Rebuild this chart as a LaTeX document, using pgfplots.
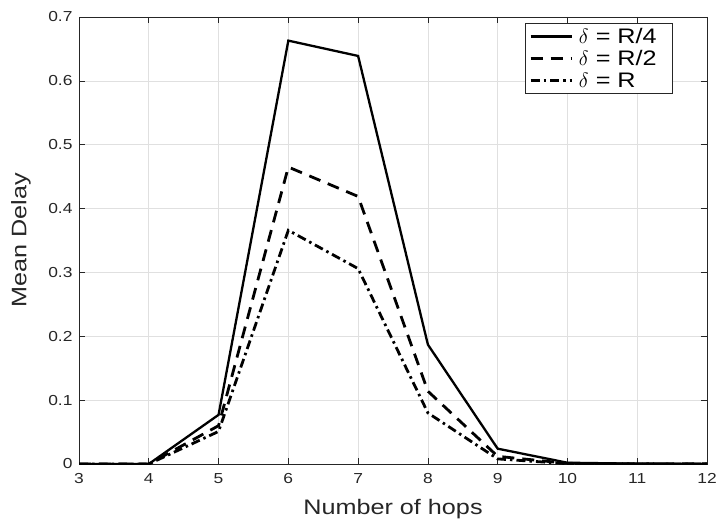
\documentclass[border=0pt]{standalone}
\usepackage{pgfplots}
\pgfplotsset{compat=1.18}
\usepackage{fontspec}
\setmainfont{Liberation Sans}[FakeStretch=1.2]
\definecolor{axgray}{gray}{0.15}
\definecolor{gridgray}{gray}{0.88}
\begin{document}
\begin{tikzpicture}
\begin{axis}[
  scale only axis,
  width=628pt, height=447pt,
  xmin=3, xmax=12, ymin=0, ymax=0.7,
  xtick={3,...,12},
  ytick={0,0.1,...,0.7},
  yticklabel style={/pgf/number format/fixed, xshift=-3pt},
  xticklabel style={yshift=-6pt},
  /pgf/number format/assume math mode=true,
  tick label style={font=\fontsize{14.5}{17}\selectfont, text=axgray},
  label style={font=\fontsize{21}{24}\selectfont, text=axgray},
  xlabel={Number of hops},
  ylabel={Mean Delay},
  xlabel style={at={(axis description cs:0.5,-0.1007)}, anchor=center},
  ylabel style={at={(axis description cs:-0.0924,0.5)}, anchor=center},
  grid=major,
  major grid style={gridgray, line width=0.7pt},
  axis line style={axgray, line width=0.8pt},
  tick style={axgray, line width=0.7pt},
  tick align=inside,
  major tick length=6pt,
  legend style={at={(0.9459,0.987)}, anchor=north east, draw=axgray, line width=0.7pt,
    font=\fontsize{21}{24}\selectfont, row sep=1.5pt, inner xsep=4pt, inner ysep=3pt,
    cells={anchor=west}},
  legend image code/.code={\draw[#1] (0pt,0pt) -- (41pt,0pt); \path (45pt,0pt);},
]
\addplot[black, line width=2.3pt] coordinates {
(3,0) (4,0) (5,0.077) (6,0.663) (7,0.639) (8,0.187) (9,0.024) (10,0.002) (11,0.0005) (12,0.0003)};
\addlegendentry{$\delta$ = R/4\hspace*{10pt}}
\addplot[black, line width=2.8pt, dash pattern=on 12pt off 8pt] coordinates {
(3,0) (4,0) (5,0.06) (6,0.465) (7,0.419) (8,0.114) (9,0.012) (10,0.001) (11,0.0003) (12,0.0002)};
\addlegendentry{$\delta$ = R/2}
\addplot[black, line width=2.8pt, dash pattern=on 9pt off 4pt on 2.5pt off 4pt] coordinates {
(3,0) (4,0) (5,0.051) (6,0.366) (7,0.306) (8,0.08) (9,0.008) (10,0.0005) (11,0.0002) (12,0.0001)};
\addlegendentry{$\delta$ = R}
\end{axis}
\pgfresetboundingbox
\path[use as bounding box] ([xshift=-79pt,yshift=-57pt]current axis.south west) rectangle ([xshift=10pt,yshift=17pt]current axis.north east);
\end{tikzpicture}
\end{document}
